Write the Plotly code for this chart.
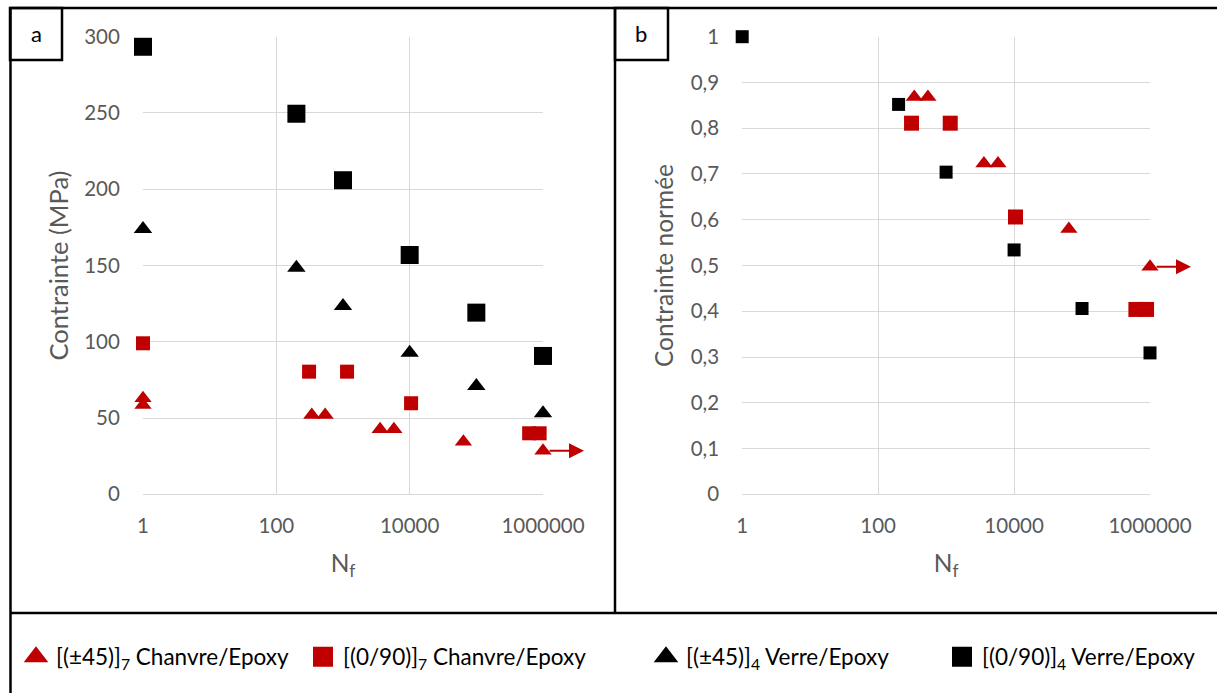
import plotly.graph_objects as go
import math

# ---------------- data ----------------
# Panel a : stress (MPa) vs cycles to failure
N_verre = [1, 200, 1000, 10000, 100000, 1000000]
S_verre_090 = [293.4, 249.5, 205.9, 156.9, 119.1, 90.7]
S_verre_45 = [174.0, 148.6, 123.4, 92.8, 71.0, 53.1]

N_chanvre_45 = [1, 1, 340, 540, 3600, 5800, 64000, 1000000]
S_chanvre_45 = [63.0, 58.5, 52.0, 52.0, 42.6, 42.6, 34.5, 28.6]

N_chanvre_090 = [1, 310, 1150, 10500, 620000, 890000]
S_chanvre_090 = [99.0, 80.4, 80.4, 59.7, 40.0, 40.0]

# Panel b : normalised stress vs cycles to failure
Nb_verre_090 = [1, 200, 1000, 10000, 100000, 1000000]
Rb_verre_090 = [1.0, 0.852, 0.704, 0.534, 0.406, 0.309]

Nb_chanvre_45 = [340, 540, 3600, 5800, 64000, 1000000]
Rb_chanvre_45 = [0.868, 0.868, 0.723, 0.723, 0.58, 0.497]

Nb_chanvre_090 = [310, 1150, 10500, 620000, 890000]
Rb_chanvre_090 = [0.811, 0.811, 0.606, 0.404, 0.404]

# run-out points (arrows)
runout_a = (1000000, 28.6)
runout_b = (1000000, 0.497)

# ticks / labels
x_tickvals = [1, 100, 10000, 1000000]
x_ticktext = ["1", "100", "10000", "1000000"]
ya_tickvals = [0, 50, 100, 150, 200, 250, 300]
ya_ticktext = ["0", "50", "100", "150", "200", "250", "300"]
yb_tickvals = [0, 0.1, 0.2, 0.3, 0.4, 0.5, 0.6, 0.7, 0.8, 0.9, 1.0]
yb_ticktext = ["0", "0,1", "0,2", "0,3", "0,4", "0,5", "0,6", "0,7", "0,8", "0,9", "1"]

names = ["[(±45)]<sub>7</sub> Chanvre/Epoxy", "[(0/90)]<sub>7</sub> Chanvre/Epoxy",
         "[(±45)]<sub>4</sub> Verre/Epoxy", "[(0/90)]<sub>4</sub> Verre/Epoxy"]

# ---------------- styling ----------------
W, H = 1217, 693
RED = "#C00000"
BLACK = "#000000"
GRID = "#D9D9D9"
TICKC = "#595959"
FONT = "Lato"


def px(x):
    return x / W


def py(y):
    return 1 - y / H


fig = go.Figure()

# panel a (data)
fig.add_trace(go.Scatter(x=N_chanvre_45, y=S_chanvre_45, mode="markers", name=names[0],
                         marker=dict(symbol="triangle-up", size=15, color=RED),
                         xaxis="x", yaxis="y", showlegend=False, cliponaxis=False))
fig.add_trace(go.Scatter(x=N_chanvre_090, y=S_chanvre_090, mode="markers", name=names[1],
                         marker=dict(symbol="square", size=14, color=RED),
                         xaxis="x", yaxis="y", showlegend=False, cliponaxis=False))
fig.add_trace(go.Scatter(x=N_verre, y=S_verre_45, mode="markers", name=names[2],
                         marker=dict(symbol="triangle-up", size=16, color=BLACK),
                         xaxis="x", yaxis="y", showlegend=False, cliponaxis=False))
fig.add_trace(go.Scatter(x=N_verre, y=S_verre_090, mode="markers", name=names[3],
                         marker=dict(symbol="square", size=18, color=BLACK),
                         xaxis="x", yaxis="y", showlegend=False, cliponaxis=False))

# panel b (data)
fig.add_trace(go.Scatter(x=Nb_chanvre_45, y=Rb_chanvre_45, mode="markers", name=names[0],
                         marker=dict(symbol="triangle-up", size=15, color=RED),
                         xaxis="x2", yaxis="y2", showlegend=False, cliponaxis=False))
fig.add_trace(go.Scatter(x=Nb_chanvre_090, y=Rb_chanvre_090, mode="markers", name=names[1],
                         marker=dict(symbol="square", size=15, color=RED),
                         xaxis="x2", yaxis="y2", showlegend=False, cliponaxis=False))
fig.add_trace(go.Scatter(x=Nb_verre_090, y=Rb_verre_090, mode="markers", name=names[3],
                         marker=dict(symbol="square", size=13, color=BLACK),
                         xaxis="x2", yaxis="y2", showlegend=False, cliponaxis=False))

# legend entries (shared by both panels, no marks of their own)
legend_specs = [("triangle-up", RED, 3, "legend"), ("square", RED, 4, "legend2"),
                ("triangle-up", BLACK, 3, "legend3"), ("square", BLACK, 4, "legend4")]
for name, (sym, col, lw, leg) in zip(names, legend_specs):
    fig.add_trace(go.Scatter(x=[None], y=[None], mode="markers", name=name,
                             marker=dict(symbol=sym, size=16, color=col,
                                         line=dict(color=col, width=lw)),
                             xaxis="x", yaxis="y", legend=leg, showlegend=True))

ydom = [py(494.3), py(36.7)]

common_x = dict(type="log", range=[0, 6], tickvals=x_tickvals, ticktext=x_ticktext,
                showgrid=True, gridcolor=GRID, gridwidth=1, showline=True, linecolor=GRID,
                linewidth=1, zeroline=False, ticks="outside", ticklen=13,
                tickcolor="rgba(0,0,0,0)", tickfont=dict(family=FONT, size=20.5, color=TICKC),
                fixedrange=True, automargin=False)
common_y = dict(showgrid=True, gridcolor=GRID, gridwidth=1, showline=False, zeroline=False,
                ticks="outside", ticklen=18, tickcolor="rgba(0,0,0,0)",
                tickfont=dict(family=FONT, size=20.5, color=TICKC), fixedrange=True,
                automargin=False)
title_font = dict(family=FONT, size=24.5, color=TICKC)

fig.update_layout(
    width=W, height=H, autosize=False,
    margin=dict(l=0, r=0, t=0, b=0, pad=0),
    paper_bgcolor="white", plot_bgcolor="white",
    xaxis=dict(domain=[px(143), px(543)], anchor="y",
               title=dict(text="N<sub>f</sub>", font=title_font, standoff=18),
               **common_x),
    yaxis=dict(domain=ydom, anchor="x", range=[0, 300], tickvals=ya_tickvals, ticktext=ya_ticktext,
               title=dict(text="Contrainte (MPa)", font=dict(family=FONT, size=25.5, color=TICKC),
                          standoff=8),
               **common_y),
    xaxis2=dict(domain=[px(742.2), px(1150)], anchor="y2",
                title=dict(text="N<sub>f</sub>", font=title_font, standoff=18),
                **common_x),
    yaxis2=dict(domain=ydom, anchor="x2", range=[0, 1], tickvals=yb_tickvals, ticktext=yb_ticktext,
                title=dict(text="Contrainte normée", font=title_font, standoff=10),
                **common_y),
)

legend_common = dict(orientation="h", yanchor="middle", xanchor="left", y=py(657),
                     bgcolor="rgba(0,0,0,0)", borderwidth=0,
                     font=dict(family=FONT, size=22.5, color="#000000"))
fig.update_layout(
    legend=dict(x=px(36 - 20), **legend_common),
    legend2=dict(x=px(323 - 20), **legend_common),
    legend3=dict(x=px(666 - 20), **legend_common),
    legend4=dict(x=px(962 - 20), **legend_common),
)

# frame lines & label boxes
LW = 2.5
shapes = [
    dict(type="line", xref="paper", yref="paper", x0=px(10), x1=1, y0=py(8), y1=py(8)),
    dict(type="line", xref="paper", yref="paper", x0=px(10.5), x1=px(10.5), y0=py(8), y1=0),
    dict(type="line", xref="paper", yref="paper", x0=px(615), x1=px(615), y0=py(8), y1=py(613)),
    dict(type="line", xref="paper", yref="paper", x0=px(10), x1=1, y0=py(613), y1=py(613)),
    dict(type="rect", xref="paper", yref="paper", x0=px(10), x1=px(62), y0=py(60), y1=py(8)),
    dict(type="rect", xref="paper", yref="paper", x0=px(615), x1=px(668), y0=py(60), y1=py(8)),
]
for s in shapes:
    s["line"] = dict(color="#000000", width=LW)
fig.update_layout(shapes=shapes)

annotations = [
    dict(text="a", xref="paper", yref="paper", x=px(36), y=py(34), showarrow=False,
         font=dict(family=FONT, size=22, color="#000000"), xanchor="center", yanchor="middle"),
    dict(text="b", xref="paper", yref="paper", x=px(641.5), y=py(34), showarrow=False,
         font=dict(family=FONT, size=22, color="#000000"), xanchor="center", yanchor="middle"),
    dict(text="", xref="x", yref="y", x=math.log10(runout_a[0]), y=runout_a[1],
         showarrow=True, arrowhead=2, arrowsize=1.5, arrowwidth=2, arrowcolor=RED,
         ax=-36, ay=0, xshift=41, standoff=0, startstandoff=0),
    dict(text="", xref="x2", yref="y2", x=math.log10(runout_b[0]), y=runout_b[1],
         showarrow=True, arrowhead=2, arrowsize=1.5, arrowwidth=2, arrowcolor=RED,
         ax=-36, ay=0, xshift=41, standoff=0, startstandoff=0),
]
fig.update_layout(annotations=annotations)

fig.write_html("out.html",
               config={"displayModeBar": False},
               post_script="document.body.style.margin='0px';"
                           "document.body.style.overflow='hidden';")
